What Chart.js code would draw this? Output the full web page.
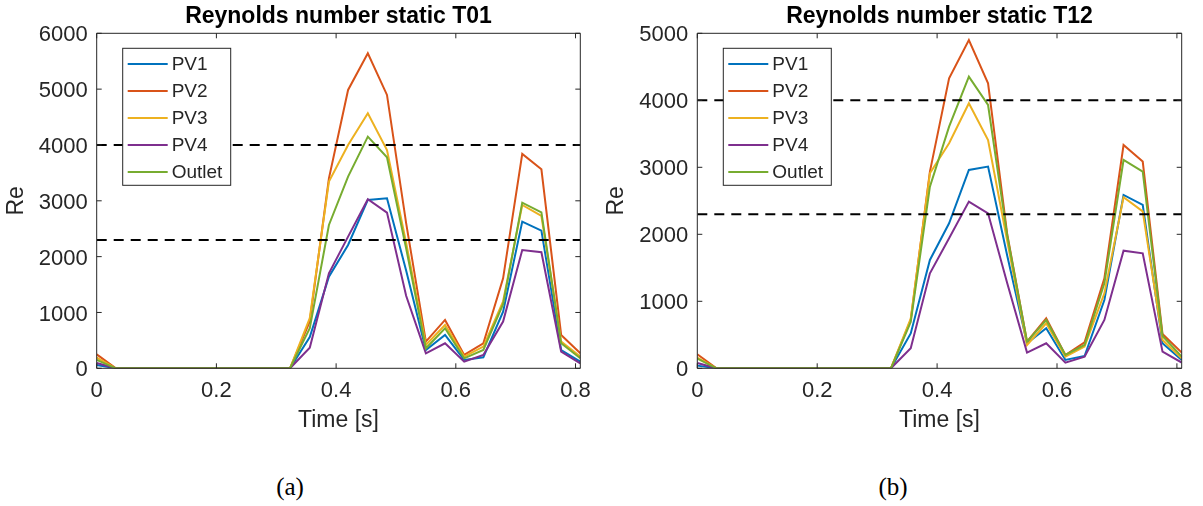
<!DOCTYPE html>
<html>
<head>
<meta charset="utf-8">
<title>Reynolds number static</title>
<script src="https://cdn.jsdelivr.net/npm/chart.js@4.4.0/dist/chart.umd.min.js"></script>
<style>
  body { margin: 0; background: #fff; width: 1203px; height: 506px; overflow: hidden; position: relative; }
  canvas { position: absolute; top: 0; }
  #chartT01 { left: 0; }
  #chartT12 { left: 600px; }
  .caption { position: absolute; top: 473px; font-family: "Liberation Serif", serif; font-size: 25px; color: #000; transform: translateX(-50%); }
</style>
</head>
<body>
<canvas id="chartT01" width="600" height="440"></canvas>
<canvas id="chartT12" width="603" height="440"></canvas>
<div class="caption" style="left:290px">(a)</div>
<div class="caption" style="left:893px">(b)</div>
<script>
// time samples [s]
const times = [0, 0.032, 0.065, 0.097, 0.129, 0.162, 0.194, 0.226, 0.259, 0.291, 0.323, 0.356, 0.388,
               0.420, 0.453, 0.485, 0.517, 0.550, 0.582, 0.614, 0.646, 0.679, 0.711, 0.743, 0.776, 0.808];
const xTicks = [0, 0.2, 0.4, 0.6, 0.8];
const thresholds = [2300, 4000]; // laminar / turbulent limits

const seriesNames = ['PV1', 'PV2', 'PV3', 'PV4', 'Outlet'];
const seriesColors = ['#0072BD', '#D95319', '#EDB120', '#7E2F8E', '#77AC30'];

// T01
const t01PV1 = [60, 0, 0, 0, 0, 0, 0, 0, 0, 0, 0, 560, 1642, 2209, 3015, 3045, 1750, 328, 597, 149, 197, 1015, 2627, 2466, 328, 119];
const t01PV2 = [250, 0, 0, 0, 0, 0, 0, 0, 0, 0, 0, 840, 3403, 4985, 5642, 4896, 2600, 478, 866, 239, 448, 1612, 3839, 3564, 597, 269];
const t01PV3 = [190, 0, 0, 0, 0, 0, 0, 0, 0, 0, 0, 900, 3343, 4000, 4567, 3910, 2250, 418, 776, 209, 388, 1200, 2925, 2728, 478, 209];
const t01PV4 = [95, 0, 0, 0, 0, 0, 0, 0, 0, 0, 0, 370, 1701, 2358, 3027, 2788, 1300, 269, 448, 119, 239, 836, 2119, 2078, 299, 90];
const t01Outlet = [150, 0, 0, 0, 0, 0, 0, 0, 0, 0, 0, 720, 2567, 3433, 4149, 3779, 2150, 358, 716, 179, 328, 1150, 2967, 2794, 448, 179];
const t01YTicks = [0, 1000, 2000, 3000, 4000, 5000, 6000];

// T12
const t12PV1 = [40, 0, 0, 0, 0, 0, 0, 0, 0, 0, 0, 520, 1617, 2164, 2960, 3010, 1680, 373, 597, 124, 184, 1020, 2587, 2438, 373, 124];
const t12PV2 = [210, 0, 0, 0, 0, 0, 0, 0, 0, 0, 0, 720, 2935, 4328, 4900, 4254, 2000, 398, 746, 199, 388, 1343, 3333, 3085, 512, 234];
const t12PV3 = [160, 0, 0, 0, 0, 0, 0, 0, 0, 0, 0, 740, 2910, 3358, 3955, 3408, 1900, 348, 672, 174, 323, 1119, 2552, 2343, 423, 149];
const t12PV4 = [80, 0, 0, 0, 0, 0, 0, 0, 0, 0, 0, 300, 1418, 1940, 2488, 2313, 1270, 234, 373, 85, 174, 721, 1756, 1716, 249, 85];
const t12Outlet = [145, 0, 0, 0, 0, 0, 0, 0, 0, 0, 0, 690, 2711, 3607, 4353, 3930, 1980, 398, 721, 199, 348, 1269, 3109, 2935, 483, 174];
const t12YTicks = [0, 1000, 2000, 3000, 4000, 5000];

const FONT = '"Liberation Sans", Arial, sans-serif';
const INK = '#262626';

// box, inward ticks, legend and title drawn MATLAB style
const matlabFrame = {
    id: 'matlabFrame',
    afterDatasetsDraw(chart, args, opts) {
        const ctx = chart.ctx;
        const a = chart.chartArea;
        const x = chart.scales.x, y = chart.scales.y;
        const tick = 5;
        ctx.save();
        ctx.strokeStyle = INK;
        ctx.lineWidth = 1;
        ctx.beginPath();
        ctx.rect(a.left, a.top, a.right - a.left, a.bottom - a.top);
        x.ticks.forEach(t => {
            const px = x.getPixelForValue(t.value);
            ctx.moveTo(px, a.bottom); ctx.lineTo(px, a.bottom - tick);
            ctx.moveTo(px, a.top); ctx.lineTo(px, a.top + tick);
        });
        y.ticks.forEach(t => {
            const py = y.getPixelForValue(t.value);
            ctx.moveTo(a.left, py); ctx.lineTo(a.left + tick, py);
            ctx.moveTo(a.right, py); ctx.lineTo(a.right - tick, py);
        });
        ctx.stroke();

        // legend box in the upper left corner
        const lx = a.left + 26, ly = a.top + 15, lw = 108, lh = 137;
        ctx.fillStyle = '#fff';
        ctx.fillRect(lx, ly, lw, lh);
        ctx.strokeRect(lx, ly, lw, lh);
        ctx.font = '19px ' + FONT;
        ctx.textAlign = 'left';
        ctx.textBaseline = 'middle';
        seriesNames.forEach((name, i) => {
            const ry = ly + 15.7 + i * 27;
            ctx.strokeStyle = seriesColors[i];
            ctx.lineWidth = 2;
            ctx.beginPath();
            ctx.moveTo(lx + 5, ry);
            ctx.lineTo(lx + 45, ry);
            ctx.stroke();
            ctx.fillStyle = INK;
            ctx.fillText(name, lx + 49, ry + 1);
        });

        // title centred over the axes
        ctx.fillStyle = '#000';
        ctx.font = 'bold 23px ' + FONT;
        ctx.textAlign = 'center';
        ctx.textBaseline = 'alphabetic';
        ctx.fillText(opts.title, (a.left + a.right) / 2, 23);
        ctx.restore();
    }
};

function makeChart(id, title, series, yTicks, yAxisWidth, padRight) {
    const datasets = series.map((vals, i) => ({
        label: seriesNames[i],
        data: times.map((t, k) => ({ x: t, y: vals[k] })),
        borderColor: seriesColors[i],
        borderWidth: 2,
        order: series.length - i
    }));
    thresholds.forEach(level => {
        datasets.push({
            label: 'Re = ' + level,
            data: [{ x: times[0], y: level }, { x: times[times.length - 1], y: level }],
            borderColor: '#000',
            borderWidth: 2,
            borderDash: [10, 7],
            order: 0
        });
    });

    return new Chart(document.getElementById(id), {
        type: 'line',
        data: { datasets },
        options: {
            responsive: false,
            animation: false,
            devicePixelRatio: 1,
            layout: { padding: { top: 33.3, right: padRight, left: 0, bottom: 0 } },
            elements: { point: { radius: 0 }, line: { tension: 0 } },
            plugins: {
                legend: { display: false },
                tooltip: { enabled: false },
                title: { display: false },
                matlabFrame: { title }
            },
            scales: {
                x: {
                    type: 'linear',
                    min: 0,
                    max: times[times.length - 1],
                    afterBuildTicks: s => { s.ticks = xTicks.map(v => ({ value: v })); },
                    afterFit: s => { s.height = 71.7; },
                    grid: { display: false, drawTicks: false },
                    border: { display: false },
                    ticks: {
                        padding: 9,
                        color: INK,
                        font: { family: FONT, size: 22 },
                        maxRotation: 0,
                        autoSkip: false,
                        callback: v => String(v)
                    },
                    title: {
                        display: true,
                        text: 'Time [s]',
                        color: INK,
                        font: { family: FONT, size: 23 },
                        padding: { top: 0, bottom: 6 }
                    }
                },
                y: {
                    type: 'linear',
                    min: yTicks[0],
                    max: yTicks[yTicks.length - 1],
                    afterBuildTicks: s => { s.ticks = yTicks.map(v => ({ value: v })); },
                    afterFit: s => { s.width = yAxisWidth; },
                    grid: { display: false, drawTicks: false },
                    border: { display: false },
                    ticks: {
                        padding: 9,
                        labelOffset: 2,
                        color: INK,
                        font: { family: FONT, size: 22 },
                        callback: v => String(v)
                    },
                    title: {
                        display: true,
                        text: 'Re',
                        color: INK,
                        font: { family: FONT, size: 23 },
                        padding: { top: 3, bottom: 0 }
                    }
                }
            }
        },
        plugins: [matlabFrame]
    });
}

makeChart('chartT01', 'Reynolds number static T01',
    [t01PV1, t01PV2, t01PV3, t01PV4, t01Outlet], t01YTicks, 96.7, 19);
makeChart('chartT12', 'Reynolds number static T12',
    [t12PV1, t12PV2, t12PV3, t12PV4, t12Outlet], t12YTicks, 97.3, 21.3);
</script>
</body>
</html>
